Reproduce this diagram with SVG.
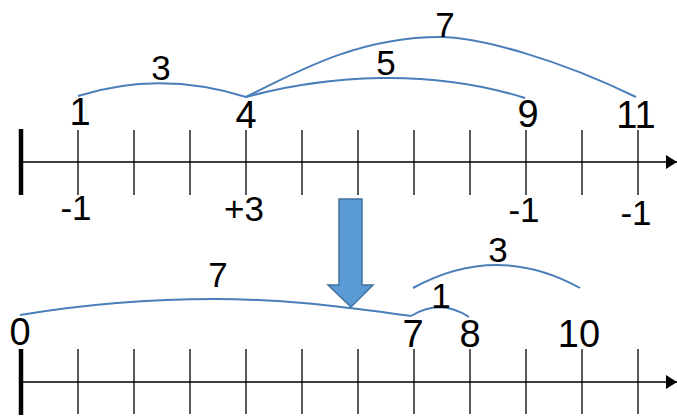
<svg xmlns="http://www.w3.org/2000/svg" width="677" height="418" viewBox="0 0 677 418">
<style>
.ax{stroke:#000;stroke-width:1.5;fill:none}
.tk{stroke:#000;stroke-width:1.3}
.bar{stroke:#000;stroke-width:4.5}
.arc{stroke:#4a7ebb;stroke-width:2;fill:none}
text{font-family:"Liberation Sans",Arial,sans-serif;fill:#000;text-anchor:middle}
.big{font-size:38px}
.sm{font-size:35px}
</style>
<defs>
<marker id="ah" markerWidth="11" markerHeight="14" refX="11" refY="7" orient="auto" markerUnits="userSpaceOnUse">
<path d="M0,0 L11,7 L0,14 Z" fill="#000"/>
</marker>
<g id="ticks">
<line class="tk" x1="78" y1="0" x2="78" y2="65"/>
<line class="tk" x1="134" y1="0" x2="134" y2="65"/>
<line class="tk" x1="190" y1="0" x2="190" y2="65"/>
<line class="tk" x1="246" y1="0" x2="246" y2="65"/>
<line class="tk" x1="302" y1="0" x2="302" y2="65"/>
<line class="tk" x1="358" y1="0" x2="358" y2="65"/>
<line class="tk" x1="414" y1="0" x2="414" y2="65"/>
<line class="tk" x1="470" y1="0" x2="470" y2="65"/>
<line class="tk" x1="526" y1="0" x2="526" y2="65"/>
<line class="tk" x1="582" y1="0" x2="582" y2="65"/>
<line class="tk" x1="638" y1="0" x2="638" y2="65"/>
</g>
</defs>

<g id="top-axis">
<line class="ax" x1="21" y1="162" x2="677" y2="162" marker-end="url(#ah)"/>
<line class="bar" x1="21" y1="129" x2="21" y2="195"/>
<use href="#ticks" y="130"/>
</g>

<g id="bottom-axis">
<line class="ax" x1="21" y1="382" x2="677" y2="382" marker-end="url(#ah)"/>
<line class="bar" x1="21" y1="349" x2="21" y2="415"/>
<use href="#ticks" y="349"/>
</g>

<g id="connectors">
<path class="arc" d="M78,96 Q160,70 246,97"/>
<path class="arc" d="M246,97 C300,70 360,37 440,37 C480,37 560,60 636,97"/>
<path class="arc" d="M246,97 C290,85 330,79 380,78 C440,77 490,87 525,98"/>
<path class="arc" d="M20,315 C80,305 150,299 215,299 C290,299 350,308 411,316"/>
<path class="arc" d="M411,316 Q440,298 469,317"/>
<path class="arc" d="M413,288 Q497,242 580,288"/>
</g>

<g id="down-arrow">
<path d="M339,199 H362 V285 H373 L351,307 L328,285 H339 Z" fill="#5b9bd5" stroke="#41719c" stroke-width="1.5"/>
</g>

<g id="top-labels">
<text class="big" x="80" y="125">1</text>
<text class="big" x="246" y="128">4</text>
<text class="big" x="528" y="127">9</text>
<text class="big" x="636" y="128">11</text>
<text class="sm" x="161" y="80">3</text>
<text class="sm" x="445" y="37">7</text>
<text class="sm" x="386" y="75">5</text>
<text class="sm" x="76" y="220">-1</text>
<text class="sm" x="244" y="221">+3</text>
<text class="sm" x="524" y="222">-1</text>
<text class="sm" x="636" y="225">-1</text>
</g>

<g id="bottom-labels">
<text class="big" x="20" y="345">0</text>
<text class="big" x="413" y="347">7</text>
<text class="big" x="470" y="347">8</text>
<text class="big" x="579" y="347">10</text>
<text class="sm" x="218" y="287">7</text>
<text class="sm" x="441" y="308">1</text>
<text class="sm" x="498" y="262">3</text>
</g>
</svg>
